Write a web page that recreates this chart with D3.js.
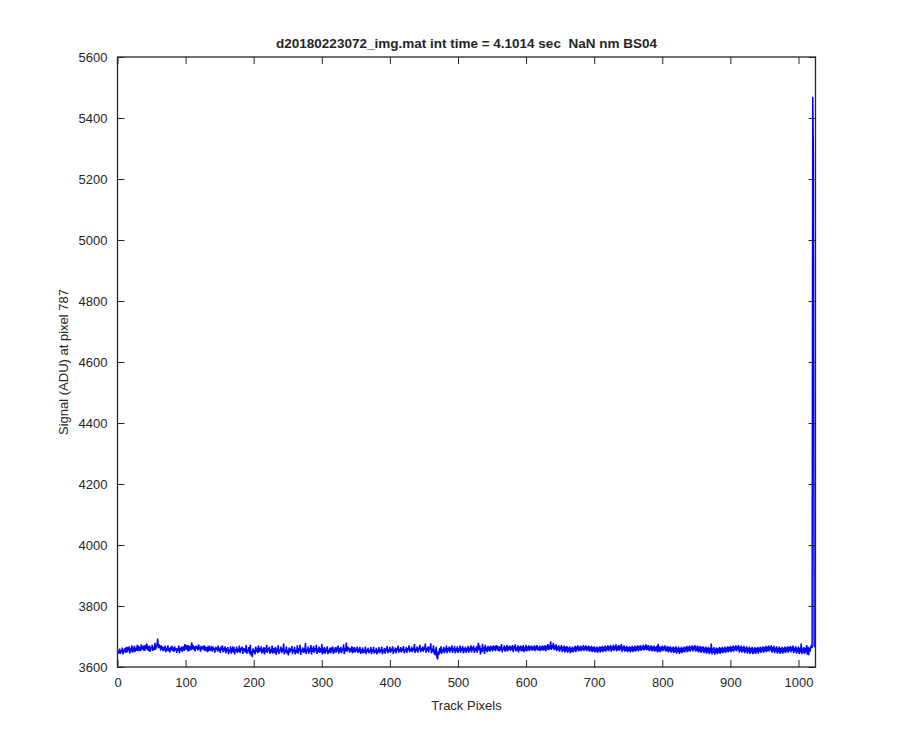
<!DOCTYPE html>
<html>
<head>
<meta charset="utf-8">
<script src="https://cdn.jsdelivr.net/npm/d3@7"></script>
<style>
body{margin:0;background:#fff;}
svg{display:block;}
text{font-family:"Liberation Sans",Arial,Helvetica,sans-serif;fill:#262626;}
</style>
</head>
<body>
<svg id="chart" width="900" height="750"></svg>
<script>
const titleText = "d20180223072_img.mat int time = 4.1014 sec  NaN nm BS04";
const xLabel = "Track Pixels";
const yLabel = "Signal (ADU) at pixel 787";
const xTicks = [0,100,200,300,400,500,600,700,800,900,1000];
const yTicks = [3600,3800,4000,4200,4400,4600,4800,5000,5200,5400,5600];
const xDomain = [0,1025];
const yDomain = [3600,5600];
// signal values for track pixels 1..1024
const signal = [
3652,3645,3660,3643,3655,3648,3664,3641,3657,3650,3662,3646,3666,3648,3659,3653,
3668,3644,3661,3651,3671,3647,3660,3655,3669,3650,3663,3654,3673,3652,3664,3658,
3667,3652,3674,3657,3664,3659,3671,3653,3666,3660,3677,3655,3663,3657,3670,3650,
3665,3658,3673,3653,3666,3656,3679,3657,3668,3672,3693,3662,3674,3667,3660,3671,
3656,3668,3652,3665,3655,3670,3649,3663,3654,3671,3651,3662,3648,3666,3655,3669,
3652,3664,3650,3668,3654,3662,3646,3661,3653,3670,3645,3663,3655,3667,3650,3661,
3668,3653,3675,3657,3666,3660,3672,3651,3664,3659,3669,3655,3681,3658,3672,3656,
3667,3651,3670,3660,3668,3654,3674,3658,3666,3650,3669,3657,3664,3661,3671,3652,
3668,3655,3665,3649,3663,3657,3670,3653,3661,3664,3650,3668,3655,3662,3647,3666,
3656,3664,3650,3670,3653,3661,3646,3667,3655,3671,3648,3663,3652,3668,3645,3661,
3651,3665,3642,3657,3650,3668,3644,3656,3662,3648,3666,3641,3658,3652,3667,3646,
3660,3650,3670,3645,3662,3654,3667,3643,3663,3651,3661,3647,3672,3644,3658,3650,
3665,3643,3673,3638,3652,3632,3661,3647,3657,3641,3667,3650,3656,3646,3670,3649,
3662,3651,3668,3644,3660,3654,3665,3641,3663,3650,3673,3646,3661,3652,3667,3643,
3658,3648,3670,3644,3656,3662,3645,3666,3640,3660,3650,3671,3643,3658,3652,3667,
3645,3662,3650,3677,3641,3658,3648,3667,3644,3656,3638,3664,3647,3660,3652,3669,
3643,3658,3650,3666,3641,3656,3647,3671,3644,3661,3652,3673,3640,3657,3650,3664,
3646,3660,3648,3679,3643,3658,3652,3667,3644,3661,3650,3672,3641,3658,3654,3669,
3647,3663,3652,3673,3643,3660,3650,3667,3646,3662,3648,3675,3641,3657,3652,3665,
3644,3660,3650,3668,3642,3657,3647,3664,3645,3658,3652,3667,3643,3660,3648,3665,
3647,3658,3652,3670,3644,3662,3650,3666,3645,3660,3654,3674,3642,3663,3651,3680,
3650,3667,3655,3664,3647,3661,3651,3668,3645,3659,3654,3665,3648,3661,3651,3667,
3646,3660,3650,3666,3643,3658,3652,3664,3645,3657,3648,3667,3642,3658,3650,3663,
3645,3657,3649,3665,3642,3658,3650,3666,3644,3655,3647,3663,3641,3657,3648,3665,
3645,3658,3650,3667,3642,3657,3648,3663,3644,3660,3652,3669,3645,3658,3650,3666,
3647,3660,3652,3668,3643,3658,3650,3664,3645,3661,3654,3670,3647,3659,3651,3665,
3648,3661,3653,3669,3645,3659,3651,3665,3646,3662,3655,3671,3648,3660,3652,3667,
3649,3662,3655,3675,3646,3660,3652,3667,3647,3664,3656,3673,3649,3662,3653,3668,
3650,3664,3656,3677,3647,3662,3653,3668,3648,3665,3657,3678,3645,3660,3650,3671,
3642,3658,3638,3666,3633,3625,3651,3640,3662,3646,3668,3643,3659,3650,3666,3645,
3661,3651,3670,3645,3662,3652,3667,3647,3664,3654,3671,3646,3662,3652,3669,3645,
3661,3651,3668,3646,3662,3652,3670,3647,3664,3654,3669,3645,3661,3651,3667,3646,
3662,3652,3669,3647,3664,3654,3671,3648,3665,3655,3670,3646,3662,3652,3668,3647,
3663,3679,3654,3670,3641,3662,3648,3676,3651,3665,3643,3673,3652,3664,3649,3669,
3654,3666,3650,3670,3655,3667,3651,3671,3656,3668,3652,3672,3657,3669,3653,3667,
3651,3668,3655,3675,3648,3664,3656,3671,3650,3667,3654,3673,3651,3668,3657,3670,
3653,3667,3656,3672,3649,3668,3657,3674,3651,3665,3654,3671,3648,3667,3655,3670,
3651,3668,3653,3672,3649,3665,3654,3673,3651,3667,3655,3671,3652,3668,3657,3670,
3654,3667,3655,3671,3652,3668,3657,3672,3654,3665,3655,3670,3652,3667,3656,3671,
3654,3668,3655,3672,3652,3669,3658,3675,3655,3670,3659,3684,3656,3673,3661,3679,
3655,3671,3658,3674,3652,3668,3656,3671,3650,3667,3655,3672,3649,3665,3653,3670,
3648,3666,3652,3669,3647,3664,3651,3668,3645,3663,3650,3667,3648,3664,3652,3669,
3649,3667,3655,3671,3651,3666,3654,3670,3652,3667,3656,3672,3653,3668,3657,3671,
3652,3667,3655,3670,3650,3666,3653,3669,3649,3665,3652,3668,3648,3664,3651,3667,
3646,3664,3651,3668,3648,3665,3652,3669,3649,3666,3653,3670,3650,3667,3655,3671,
3652,3668,3655,3672,3650,3667,3656,3673,3653,3669,3657,3674,3651,3668,3656,3672,
3653,3669,3657,3676,3649,3667,3655,3671,3650,3666,3653,3669,3649,3665,3652,3668,
3648,3666,3652,3669,3649,3665,3653,3670,3650,3667,3655,3671,3651,3668,3656,3672,
3653,3668,3657,3673,3654,3669,3658,3674,3655,3670,3656,3672,3652,3668,3655,3671,
3651,3667,3654,3670,3650,3666,3653,3669,3648,3676,3651,3668,3649,3666,3654,3670,
3652,3667,3656,3671,3650,3666,3653,3669,3648,3665,3652,3668,3647,3664,3650,3667,
3646,3664,3649,3668,3644,3663,3650,3667,3643,3662,3648,3666,3645,3663,3650,3667,
3648,3665,3652,3669,3649,3666,3653,3670,3650,3667,3655,3671,3651,3668,3656,3672,
3650,3667,3653,3670,3648,3666,3651,3669,3646,3665,3650,3668,3645,3664,3649,3667,
3644,3663,3648,3666,3642,3662,3647,3677,3641,3661,3646,3665,3640,3660,3646,3664,
3642,3661,3647,3665,3643,3662,3648,3666,3645,3663,3650,3667,3646,3664,3651,3668,
3648,3665,3652,3669,3649,3666,3653,3670,3650,3667,3655,3671,3651,3668,3656,3672,
3648,3666,3652,3670,3647,3665,3651,3669,3645,3664,3650,3668,3644,3663,3649,3667,
3643,3662,3648,3666,3642,3661,3647,3665,3643,3662,3648,3666,3644,3663,3650,3667,
3646,3664,3651,3668,3647,3665,3652,3669,3649,3666,3653,3670,3650,3667,3655,3671,
3647,3665,3651,3669,3645,3664,3650,3668,3644,3663,3649,3667,3643,3662,3648,3666,
3644,3663,3649,3667,3645,3664,3650,3668,3647,3665,3652,3669,3648,3666,3653,3670,
3645,3664,3650,3668,3644,3663,3649,3667,3643,3662,3648,3677,3642,3661,3647,3665,
3643,3662,3648,3672,3640,3666,3639,3664,3650,3667,3670,3662,5470,5250,3670,3665
];
const pixels = signal.map((d,i)=>i+1);

const svg = d3.select("#chart");
const m = {left:117.5, right:815.5, top:57, bottom:667};
const x = d3.scaleLinear().domain(xDomain).range([m.left, m.right]);
const y = d3.scaleLinear().domain(yDomain).range([m.bottom, m.top]);
const axisColor = "#262626";
const tickLen = 7;

// data line (clipped to the axes)
svg.append("clipPath").attr("id","clip").append("rect")
  .attr("x", m.left).attr("y", m.top).attr("width", m.right-m.left).attr("height", m.bottom-m.top);
const line = d3.line().x((d,i)=>x(pixels[i])).y(d=>y(d));
svg.append("path").datum(signal)
  .attr("clip-path","url(#clip)")
  .attr("d", line).attr("fill","none").attr("stroke","#0000ff").attr("stroke-width",1.5)
  .attr("stroke-linejoin","miter");

// axes
function styleAxis(g){
  g.select(".domain").remove();
  g.selectAll(".tick line").attr("stroke", axisColor).attr("stroke-width",1);
  g.selectAll(".tick text").attr("fill", axisColor).style("font-size","13px")
   .style("font-family",'"Liberation Sans",Arial,sans-serif');
}
const gx = svg.append("g").attr("transform",`translate(0,${m.bottom})`)
  .call(d3.axisBottom(x).tickValues(xTicks).tickSizeInner(-tickLen).tickSizeOuter(0).tickPadding(11).tickFormat(d3.format("d")));
styleAxis(gx);
const gxt = svg.append("g").attr("transform",`translate(0,${m.top})`)
  .call(d3.axisTop(x).tickValues(xTicks).tickSizeInner(-tickLen).tickSizeOuter(0).tickFormat(""));
styleAxis(gxt);
const gy = svg.append("g").attr("transform",`translate(${m.left},0)`)
  .call(d3.axisLeft(y).tickValues(yTicks).tickSizeInner(-tickLen).tickSizeOuter(0).tickPadding(10).tickFormat(d3.format("d")));
styleAxis(gy);
const gyr = svg.append("g").attr("transform",`translate(${m.right},0)`)
  .call(d3.axisRight(y).tickValues(yTicks).tickSizeInner(-tickLen).tickSizeOuter(0).tickFormat(""));
styleAxis(gyr);

// box
svg.append("rect").attr("x", m.left).attr("y", m.top)
  .attr("width", m.right-m.left).attr("height", m.bottom-m.top)
  .attr("fill","none").attr("stroke", axisColor).attr("stroke-width",1.3);

// labels
svg.append("text").attr("x",(m.left+m.right)/2).attr("y",48)
  .attr("text-anchor","middle").style("font-size","13.5px").style("font-weight","bold")
  .style("white-space","pre").attr("xml:space","preserve")
  .attr("fill","#000").text(titleText);
svg.append("text").attr("x",(m.left+m.right)/2).attr("y",710)
  .attr("text-anchor","middle").style("font-size","13px").text(xLabel);
svg.append("text").attr("transform",`translate(68,${(m.top+m.bottom)/2}) rotate(-90)`)
  .attr("text-anchor","middle").style("font-size","13px").text(yLabel);
</script>
</body>
</html>
